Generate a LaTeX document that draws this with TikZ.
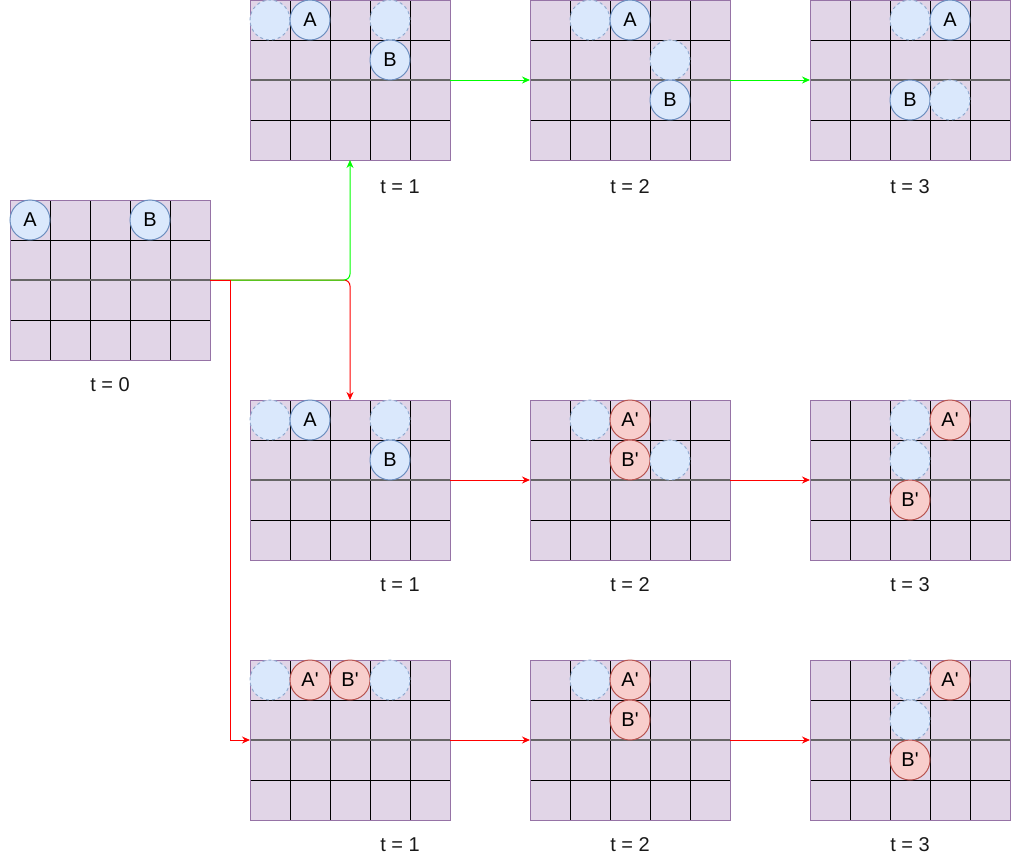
\documentclass[tikz,border=0pt]{standalone}
\usepackage{fontspec}
\setmainfont{Liberation Sans}
\usetikzlibrary{arrows.meta}
\definecolor{gfill}{HTML}{E1D5E7}
\definecolor{gdraw}{HTML}{9673A6}
\definecolor{bfill}{HTML}{DAE8FC}
\definecolor{bdraw}{HTML}{6C8EBF}
\definecolor{rfill}{HTML}{F8CECC}
\definecolor{rdraw}{HTML}{B85450}
\definecolor{mgray}{HTML}{666666}
\definecolor{arrgreen}{HTML}{00FF00}
\definecolor{arrred}{HTML}{FF0000}
\newcommand\pr{\textquotesingle}
\tikzset{
  gridsty/.style={draw=gdraw, fill=gfill, line width=1pt, minimum width=200pt, minimum height=160pt, inner sep=0pt, outer sep=0pt},
  cellline/.style={draw=black, line width=1pt},
  midline/.style={draw=mgray, line width=1.6pt},
  bcirc/.style={circle, minimum size=40pt, inner sep=0pt, fill=bfill, draw=bdraw, line width=1pt, font=\fontsize{20}{23}\selectfont},
  rcirc/.style={circle, minimum size=40pt, inner sep=0pt, fill=rfill, draw=rdraw, line width=1pt, font=\fontsize{20}{23}\selectfont},
  ghost/.style={circle, minimum size=40pt, inner sep=0pt, fill=bfill, draw=bdraw!75, line width=1pt, dash pattern=on 3pt off 3pt},
  tlabel/.style={font=\fontsize{20}{23}\selectfont, text=black!90, inner sep=0pt},
  garr/.style={draw=arrgreen, line width=1pt, -{Stealth[length=8pt,width=7pt]}},
  rarr/.style={draw=arrred, line width=1pt, -{Stealth[length=8pt,width=7pt]}}
}
\newcommand\gridbox[3]{%
  \node[gridsty, anchor=north west] (#1) at (#2,#3) {};
  \begin{scope}[shift={(#2,#3)}]
    \foreach \i in {40,80,120,160} \draw[cellline] (\i,0) -- (\i,160);
    \draw[cellline] (0,40) -- (200,40);
    \draw[cellline] (0,120) -- (200,120);
    \draw[midline] (0,80) -- (200,80);
  \end{scope}
  \draw[draw=gdraw, line width=1pt] (#1.north west) rectangle (#1.south east);
}
\begin{document}
\begin{tikzpicture}[x=1pt, y=-1pt]
\useasboundingbox (0,0) rectangle (1013,862);

% grids
\gridbox{g0}{10}{200}
\gridbox{gT1}{250}{0}
\gridbox{gT2}{530}{0}
\gridbox{gT3}{810}{0}
\gridbox{gM1}{250}{400}
\gridbox{gM2}{530}{400}
\gridbox{gM3}{810}{400}
\gridbox{gB1}{250}{660}
\gridbox{gB2}{530}{660}
\gridbox{gB3}{810}{660}

% connectors
\draw[rarr, rounded corners=6pt] (g0.east) -- (gM1.north |- g0.east) -- (gM1.north);
\draw[garr, rounded corners=6pt] (g0.east) -- (gT1.south |- g0.east) -- (gT1.south);
\draw[rarr] (g0.east) -- ([xshift=20pt]g0.east) |- (gB1.west);
\draw[garr] (gT1.east) -- (gT2.west);
\draw[garr] (gT2.east) -- (gT3.west);
\draw[rarr] (gM1.east) -- (gM2.west);
\draw[rarr] (gM2.east) -- (gM3.west);
\draw[rarr] (gB1.east) -- (gB2.west);
\draw[rarr] (gB2.east) -- (gB3.west);

% t = 0
\node[bcirc] (a0) at (30,220) {A};
\node[bcirc] (b0) at (150,220) {B};

% top row
\node[ghost] (t1g1) at (270,20) {};
\node[bcirc] (t1a) at (310,20) {A};
\node[ghost] (t1g2) at (390,20) {};
\node[bcirc] (t1b) at (390,60) {B};

\node[ghost] (t2g1) at (590,20) {};
\node[bcirc] (t2a) at (630,20) {A};
\node[ghost] (t2g2) at (670,60) {};
\node[bcirc] (t2b) at (670,100) {B};

\node[ghost] (t3g1) at (910,20) {};
\node[bcirc] (t3a) at (950,20) {A};
\node[bcirc] (t3b) at (910,100) {B};
\node[ghost] (t3g2) at (950,100) {};

% middle row
\node[ghost] (m1g1) at (270,420) {};
\node[bcirc] (m1a) at (310,420) {A};
\node[ghost] (m1g2) at (390,420) {};
\node[bcirc] (m1b) at (390,460) {B};

\node[ghost] (m2g1) at (590,420) {};
\node[rcirc] (m2a) at (630,420) {A\pr};
\node[rcirc] (m2b) at (630,460) {B\pr};
\node[ghost] (m2g2) at (670,460) {};

\node[ghost] (m3g1) at (910,420) {};
\node[rcirc] (m3a) at (950,420) {A\pr};
\node[ghost] (m3g2) at (910,460) {};
\node[rcirc] (m3b) at (910,500) {B\pr};

% bottom row
\node[ghost] (b1g1) at (270,680) {};
\node[rcirc] (b1a) at (310,680) {A\pr};
\node[rcirc] (b1b) at (350,680) {B\pr};
\node[ghost] (b1g2) at (390,680) {};

\node[ghost] (b2g1) at (590,680) {};
\node[rcirc] (b2a) at (630,680) {A\pr};
\node[rcirc] (b2b) at (630,720) {B\pr};

\node[ghost] (b3g1) at (910,680) {};
\node[rcirc] (b3a) at (950,680) {A\pr};
\node[ghost] (b3g2) at (910,720) {};
\node[rcirc] (b3b) at (910,760) {B\pr};

% labels
\node[tlabel] (l0) at (110,385) {t = 0};
\node[tlabel] (lT1) at (400,187) {t = 1};
\node[tlabel] (lT2) at (630,187) {t = 2};
\node[tlabel] (lT3) at (910,187) {t = 3};
\node[tlabel] (lM1) at (400,585) {t = 1};
\node[tlabel] (lM2) at (630,585) {t = 2};
\node[tlabel] (lM3) at (910,585) {t = 3};
\node[tlabel] (lB1) at (400,845) {t = 1};
\node[tlabel] (lB2) at (630,845) {t = 2};
\node[tlabel] (lB3) at (910,845) {t = 3};
\end{tikzpicture}
\end{document}
